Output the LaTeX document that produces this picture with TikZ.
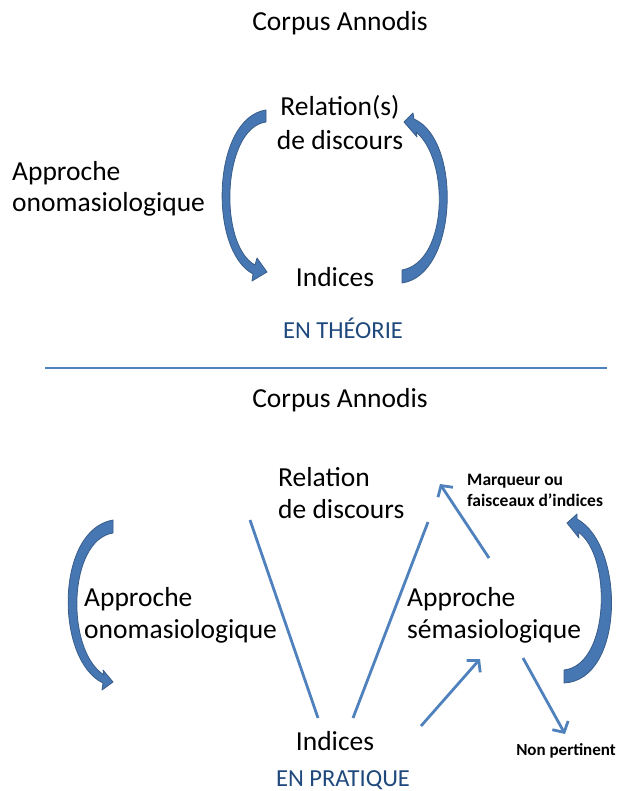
\documentclass[tikz,border=0pt]{standalone}
\usepackage{fontspec}
\setmainfont{Carlito}
\usetikzlibrary{arrows.meta}
\definecolor{bleuTrait}{HTML}{4F81BD}
\definecolor{bleuFleche}{HTML}{4677B3}
\definecolor{bleuBord}{HTML}{385D8A}
\definecolor{bleuTitre}{HTML}{1F497D}
\begin{document}
\begin{tikzpicture}[x=1pt,y=-1pt,>={Straight Barb[length=8pt,width=18pt]},
    texte/.style={inner sep=0pt,font=\fontsize{27.5}{32}\selectfont},
    petit/.style={inner sep=0pt,font=\fontsize{17.5}{21}\selectfont\bfseries},
    titre/.style={inner sep=0pt,text=bleuTitre,font=\fontsize{24.5}{29}\selectfont},
    trait/.style={bleuTrait,line width=2.8pt},
    courbe/.style={fill=bleuFleche,draw=bleuBord,line width=0.8pt,line join=round}]
  \useasboundingbox (0,0) rectangle (620,791);
  \node[texte,anchor=base] (corpusT) at (340,31) {Corpus Annodis};
  \node[texte,align=center,anchor=base,font=\fontsize{27.5}{34}\selectfont] (relT)
    at (340,150) {Relation(s)\\de discours};
  \node[texte,align=left,anchor=base west,font=\fontsize{27.5}{31}\selectfont] (onoT)
    at (12,212) {Approche\\onomasiologique};
  \node[texte,anchor=base] (indT) at (335,287) {Indices};
  \node[titre,anchor=base] (theorie) at (343,338) {EN THÉORIE};
  \draw[courbe] (266,110) .. controls (212,118) and (208,250) .. (253,274)
    -- (252,281) -- (267,272) -- (257,258) -- (255,265)
    .. controls (218,245) and (222,128) .. (266,122) -- cycle;
  \draw[courbe] (402,283) .. controls (458,275) and (462,140) .. (414,119)
    -- (413,113) -- (404,122) -- (417,137) -- (416,132)
    .. controls (450,160) and (448,262) .. (402,270) -- cycle;
  \draw[bleuTrait,line width=2pt] (45,368) -- (607,368);
  \node[texte,anchor=base] (corpusP) at (340,407) {Corpus Annodis};
  \node[texte,align=left,anchor=base west] (relP) at (278,518) {Relation\\de discours};
  \node[texte,align=left,anchor=base west] (onoP) at (84,638) {Approche\\onomasiologique};
  \node[texte,align=left,anchor=base west] (semP) at (407,638) {Approche\\sémasiologique};
  \node[texte,anchor=base] (indP) at (335,750) {Indices};
  \node[titre,anchor=base] (pratique) at (343,786) {EN PRATIQUE};
  \node[petit,align=left,anchor=base west] (marq) at (467,506) {Marqueur ou\\faisceaux d’indices};
  \node[petit,font=\fontsize{17}{21}\selectfont\bfseries,anchor=base] (nonp)
    at (566,755) {Non pertinent};
  \coordinate (gHaut) at (250,520);
  \coordinate (gBas) at (318,718);
  \coordinate (dHaut) at (428,522);
  \coordinate (dBas) at (353,718);
  \coordinate (marqDep) at (489,558);
  \coordinate (marqArr) at (440,484);
  \coordinate (semDep) at (421,726);
  \coordinate (semArr) at (480,659);
  \coordinate (nonDep) at (523,658);
  \coordinate (nonArr) at (565,734);
  \draw[trait] (gHaut) -- (gBas);
  \draw[trait] (dHaut) -- (dBas);
  \draw[trait,->] (marqDep) -- (marqArr);
  \draw[trait,->] (semDep) -- (semArr);
  \draw[trait,->] (nonDep) -- (nonArr);
  \draw[courbe] (113,520) .. controls (55,530) and (55,660) .. (103,683)
    -- (102,690) -- (113,682) -- (103,670) -- (104,675)
    .. controls (65,650) and (68,540) .. (113,533) -- cycle;
  \draw[courbe] (564,683) .. controls (625,680) and (625,545) .. (577,519)
    -- (577,514) -- (567,523) -- (579,538) -- (578,532)
    .. controls (612,555) and (610,665) .. (564,670) -- cycle;
\end{tikzpicture}
\end{document}
